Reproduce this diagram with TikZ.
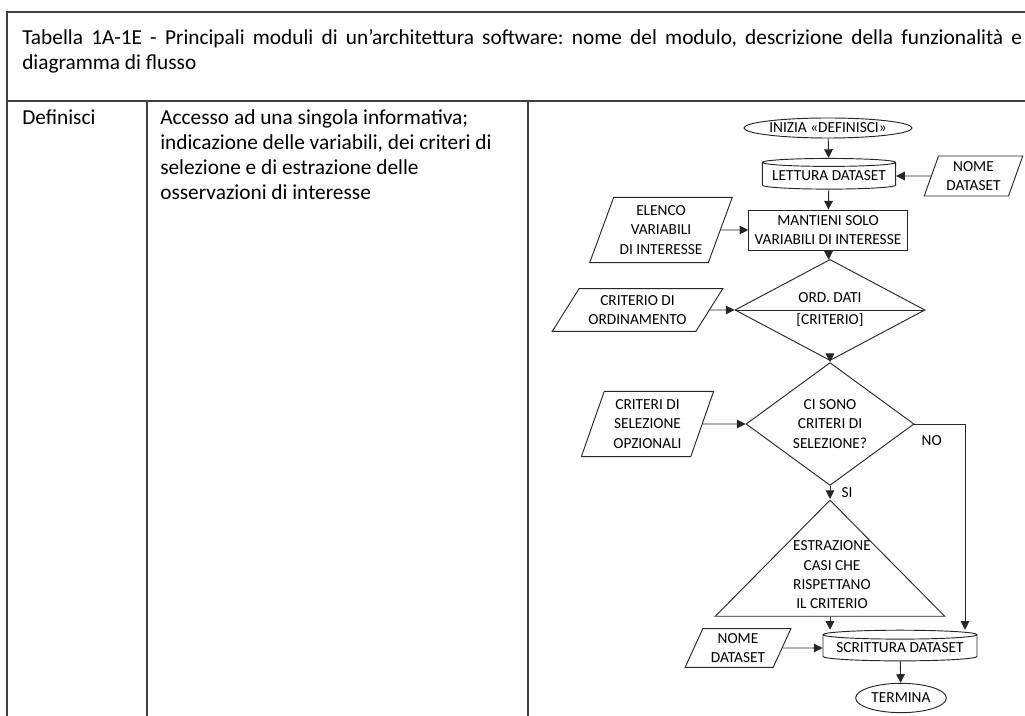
\documentclass[tikz,border=0pt]{standalone}
\usepackage{fontspec}
\setmainfont{Carlito}
\usetikzlibrary{shapes.geometric,arrows.meta}
\frenchspacing

\begin{document}
\begin{tikzpicture}[x=0.75pt, y=-0.75pt,
    io/.style={trapezium, trapezium stretches=true},
    disk/.style={cylinder, shape border rotate=90, aspect=0.07},
    decision/.style={diamond},
    >={Triangle[length=6.5pt,width=6.5pt]}]

    \useasboundingbox (0,0) rectangle (1025,716);

    % Table %
    \begin{scope}[draw=black!75]
        \draw [line width=1.5pt] (1025,12) -- (7,12) -- (7,716);
        \draw [line width=0.9pt] (7,101) -- (1025,101);
        \draw [line width=0.9pt] (147,101) -- (147,716);
        \draw [line width=0.9pt] (528,101) -- (528,716);
    \end{scope}

    \begin{scope}[every node/.style={inner sep=0pt, font=\fontsize{16}{18.75}\selectfont}]
        \node [anchor=north west, text width=750pt, align=justify] (title) at (22,29) {Tabella 1A-1E - Principali moduli di un’architettura software: nome del modulo, descrizione della funzionalità e\linebreak diagramma di flusso};
        \node [anchor=north west] (name) at (22,109.5) {Definisci};
        \node [anchor=north west, align=left] (descr) at (160,109.5) {Accesso ad una singola informativa;\\indicazione delle variabili, dei criteri di\\selezione e di estrazione delle\\osservazioni di interesse};
    \end{scope}

    % Flow chart %
    \begin{scope}[every node/.style={draw=black!85, line width=0.7pt, inner sep=0pt, align=center, font=\fontsize{11.5}{14.5}\selectfont}]
        \node [ellipse, minimum width=126pt, minimum height=15pt] (1) at (828,128) {INIZIA «DEFINISCI»};
        \node [disk, minimum width=100pt, minimum height=23pt] (2) at (829,176) {LETTURA DATASET};
        \node [io, trapezium left angle=69.4, trapezium right angle=110.6, minimum width=74pt, minimum height=30pt] (3) at (973.5,176) {NOME\\DATASET};
        \node [rectangle, minimum width=119pt, minimum height=30pt] (4) at (828,230) {MANTIENI SOLO\\VARIABILI DI INTERESSE};
        \node [io, trapezium left angle=66.7, trapezium right angle=113.3, minimum width=108pt, minimum height=49pt] (5) at (661,230) {ELENCO\\VARIABILI\\DI INTERESSE};
        \node [decision, minimum width=142.5pt, minimum height=57pt,
            path picture={\draw (path picture bounding box.west) -- (path picture bounding box.east);}] (6) at (830,310) {ORD. DATI\\[2pt][CRITERIO]};
        \node [io, trapezium left angle=52.5, trapezium right angle=127.5, minimum width=128pt, minimum height=32pt] (7) at (637.5,310) {CRITERIO DI\\ORDINAMENTO};
        \node [decision, minimum width=126pt, minimum height=85.5pt] (8) at (830,424) {CI SONO\\CRITERI DI\\SELEZIONE?};
        \node [io, trapezium left angle=69.7, trapezium right angle=110.3, minimum width=100pt, minimum height=49pt] (9) at (647.5,424) {CRITERI DI\\SELEZIONE\\OPZIONALI};
        \node [isosceles triangle, shape border rotate=90, isosceles triangle stretches=true, minimum width=172pt, minimum height=87pt, anchor=apex] (10) at (830,499) {};
        \node [draw=none] (10t) at (832,575) {ESTRAZIONE\\CASI CHE\\RISPETTANO\\IL CRITERIO};
        \node [disk, minimum width=115.5pt, minimum height=23pt] (11) at (900,648) {SCRITTURA DATASET};
        \node [io, trapezium left angle=65.2, trapezium right angle=114.8, minimum width=79.5pt, minimum height=29pt] (12) at (738,648) {NOME\\DATASET};
        \node [ellipse, minimum width=68pt, minimum height=22pt] (13) at (901,698) {TERMINA};
    \end{scope}

    \begin{scope}[every node/.style={font=\fontsize{11.5}{14.5}\selectfont}, every edge/.style={draw=black!85, line width=0.7pt}]
        \path [->] (1) edge (2);
        \path [->] (3) edge (2);
        \path [->] (2) edge (4);
        \path [->] (5) edge (4);
        \path [->] (4) edge (6);
        \path [->] (7) edge (6);
        \path [->] (6) edge (8);
        \path [->] (9) edge (8);
        \path [->] (8) edge node [right=5pt] {SI} (10);
        \path [->] (10.lower side) edge (10.lower side |- 11.north);
        \path [->] (8.east) edge [to path={-| (\tikztotarget) \tikztonodes}] node [pos=0.17, anchor=north, yshift=-5pt] {NO} ([xshift=48.75pt]11.north);
        \path [->] (12) edge (11);
        \path [->] (11) edge (13);
    \end{scope}

\end{tikzpicture}
\end{document}
